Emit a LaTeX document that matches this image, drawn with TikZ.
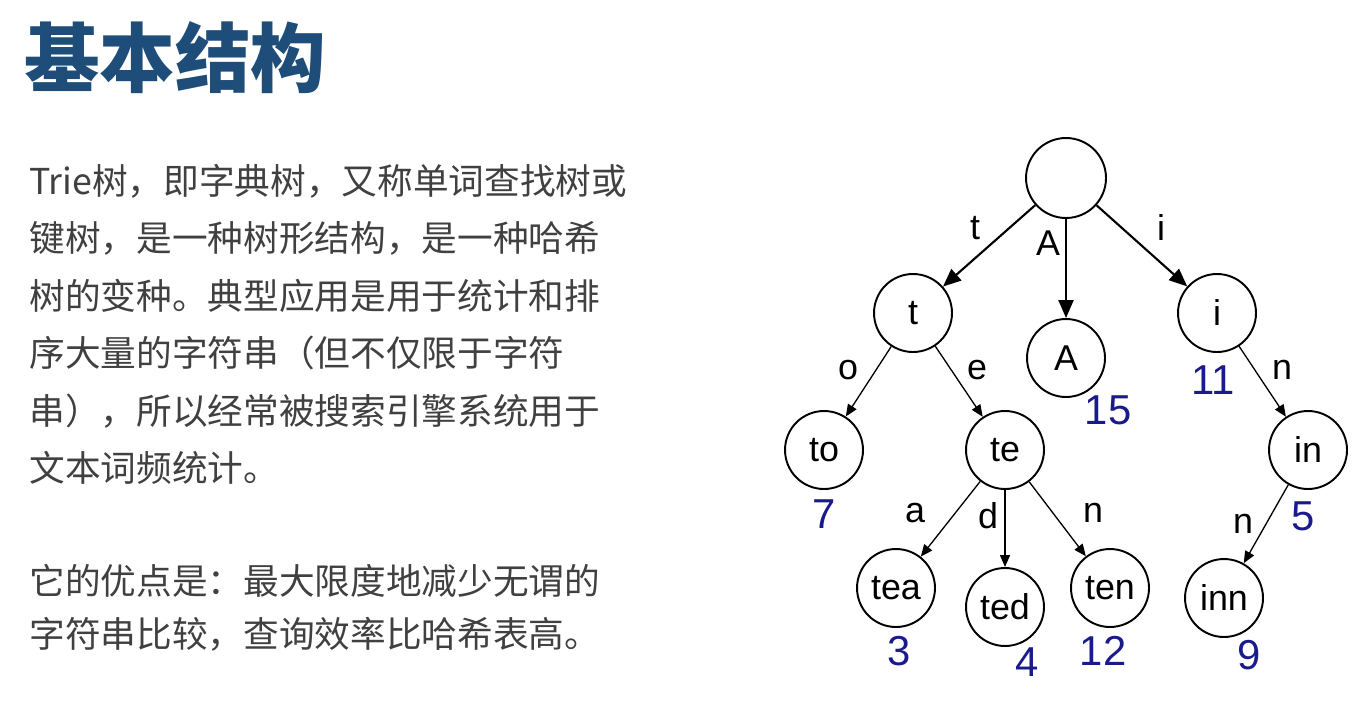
\documentclass[tikz,border=0pt]{standalone}
\usepackage{fontspec}
\setmainfont{Liberation Sans}
\newfontfamily\cjk{Noto Sans CJK SC}
\usetikzlibrary{arrows.meta}
\definecolor{titleblue}{RGB}{31,77,122}
\definecolor{bodygray}{RGB}{64,64,64}
\definecolor{freqblue}{RGB}{26,26,140}
\tikzset{
    trienode/.style={draw=black, circle, line width=1.1pt, minimum size=1.56cm, inner sep=0pt, font=\fontsize{20.4}{24}\selectfont},
    edgelbl/.style={inner sep=0pt, font=\fontsize{20.4}{24}\selectfont},
    freq/.style={inner sep=0pt, text=freqblue, font=\fontsize{23.8}{28}\selectfont},
    bigarr/.style={-{Triangle[length=0.36cm,width=0.30cm]}, line width=1.2pt},
    smallarr/.style={-{Triangle[length=0.24cm,width=0.20cm]}, line width=0.75pt},
    bodyline/.style={anchor=base west, inner sep=0pt, text=bodygray, font=\cjk\fontsize{20.3}{24}\selectfont}
}
\begin{document}
\begin{tikzpicture}[x=0.02cm, y=-0.02cm]
    \useasboundingbox (0,0) rectangle (1368,720);
    % title and text
    \node[anchor=base west, inner sep=0pt, text=titleblue, font=\cjk\bfseries\fontsize{43}{50}\selectfont] (title) at (24,86) {基本结构};
    \node[bodyline] (l1) at (29,194) {Trie树，即字典树，又称单词查找树或};
    \node[bodyline] (l2) at (29,251) {键树，是一种树形结构，是一种哈希};
    \node[bodyline] (l3) at (29,309) {树的变种。典型应用是用于统计和排};
    \node[bodyline] (l4) at (29,366) {序大量的字符串（但不仅限于字符};
    \node[bodyline] (l5) at (29,424) {串），所以经常被搜索引擎系统用于};
    \node[bodyline] (l6) at (29,481) {文本词频统计。};
    \node[bodyline] (l7) at (29,594) {它的优点是：最大限度地减少无谓的};
    \node[bodyline] (l8) at (29,647) {字符串比较，查询效率比哈希表高。};
    % trie nodes
    \node[trienode, minimum size=1.6cm] (root) at (1066,178) {};
    \node[trienode] (t) at (913,313) {t};
    \node[trienode] (A) at (1066,358) {A};
    \node[trienode] (i) at (1217,313) {i};
    \node[trienode] (to) at (824,450) {to};
    \node[trienode] (te) at (1005,450) {te};
    \node[trienode] (in) at (1308,450) {in};
    \node[trienode] (tea) at (896,588) {tea};
    \node[trienode] (ted) at (1005,607) {ted};
    \node[trienode] (ten) at (1110,588) {ten};
    \node[trienode] (inn) at (1224,598) {inn};
    % edges
    \draw[bigarr] (root) -- (t);
    \draw[bigarr] (root) -- (A);
    \draw[bigarr] (root) -- (i);
    \draw[smallarr] (t) -- (to);
    \draw[smallarr] (t) -- (te);
    \draw[smallarr] (te) -- (tea);
    \draw[smallarr] (te) -- (ted);
    \draw[smallarr] (te) -- (ten);
    \draw[smallarr] (i) -- (in);
    \draw[smallarr] (in) -- (inn);
    % edge letters
    \node[edgelbl] (et) at (975,228) {t};
    \node[edgelbl] (eA) at (1048,243) {A};
    \node[edgelbl] (ei) at (1161,228) {i};
    \node[edgelbl] (eo) at (848,370) {o};
    \node[edgelbl] (ee) at (977,370) {e};
    \node[edgelbl] (ea) at (915,513) {a};
    \node[edgelbl] (ed) at (988,516) {d};
    \node[edgelbl] (en) at (1093,513) {n};
    \node[edgelbl] (en2) at (1282,370) {n};
    \node[edgelbl] (en3) at (1243,524) {n};
    % counts
    \node[freq] (fA) at (1108,410) {15};
    \node[freq] (fi) at (1213,380) {11};
    \node[freq] (fto) at (824,514) {7};
    \node[freq] (fin) at (1303,516) {5};
    \node[freq] (ftea) at (899,651) {3};
    \node[freq] (fted) at (1027,662) {4};
    \node[freq] (ften) at (1103,651) {12};
    \node[freq] (finn) at (1249,655) {9};
\end{tikzpicture}
\end{document}
